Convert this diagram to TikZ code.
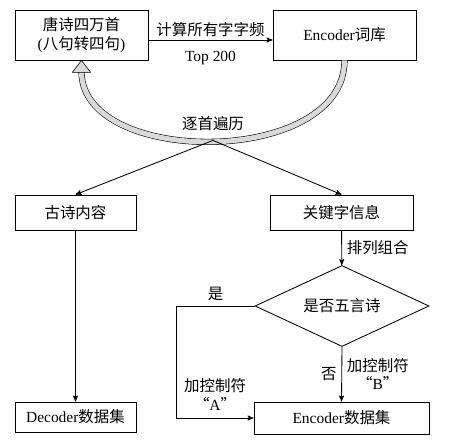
\documentclass[tikz,border=0pt]{standalone}
\usepackage{fontspec}
\setmainfont{Liberation Serif}
\newfontfamily\cjk{Noto Sans CJK SC}
\newcommand{\zh}[1]{{\cjk #1}}
\usepackage{tikz}
\usetikzlibrary{arrows,shapes.geometric,positioning}

\begin{document}
\begin{tikzpicture}[->,>=stealth',semithick,font=\fontsize{11}{13}\selectfont,
    box/.style={draw,rectangle,align=center,inner sep=2pt},
    decision/.style={draw,diamond,aspect=2,inner sep=1pt,minimum width=4.35cm,minimum height=2.025cm},
    loopback/.style={-,double=gray!30,double distance=3.6pt,thin,shorten >=8pt}]
            % \useasboundingbox keeps the margins of the page
            \useasboundingbox (0,0) rectangle (11.25,-11.125);

            \node[box,minimum width=3.325cm,minimum height=1.25cm] (poem) at (2.0375,-0.875) {\zh{唐诗四万首}\\(\zh{八句转四句})};
            \node[box,minimum width=3.575cm,minimum height=1.25cm] (vocab) at (8.6125,-0.875) {Encoder\zh{词库}};
            \node[box,minimum width=3.025cm,minimum height=0.875cm] (content) at (1.8875,-5.3125) {\zh{古诗内容}};
            \node[box,minimum width=3.575cm,minimum height=0.875cm] (keyword) at (8.5375,-5.3125) {\zh{关键字信息}};
            \node[decision] (check) at (8.55,-7.65) {\zh{是否五言诗}};
            \node[box,minimum width=3.025cm,minimum height=0.75cm] (decoder) at (1.8875,-10.425) {Decoder\zh{数据集}};
            \node[box,minimum width=4.375cm,minimum height=0.8cm] (encoder) at (8.5375,-10.45) {Encoder\zh{数据集}};

            \draw ([yshift=-0.125cm]poem.east) -- node[above=-1pt] {\zh{计算所有字字频}} node[below=4pt] {Top 200} ([yshift=-0.125cm]vocab.west);

            % hollow arrow back to the poems
            \draw[loopback] (vocab.south) to[out=-90,in=-90,looseness=1.04] coordinate[pos=0.5] (split) (poem.south);
            \filldraw[-,thin,fill=gray!30,line join=miter] (poem.south) -- ++(-6.5pt,-8.5pt) -- ++(13pt,0) -- cycle;
            \node[above=0.12cm of split] (traverse) {\zh{逐首遍历}};

            \draw (split) -- (content.north);
            \draw (split) -- (keyword.north);
            \draw (content) -- (decoder);
            \path (keyword) edge node[right] {\zh{排列组合}} (check);
            \draw (check.west) -- node[above] {\zh{是}} ++(-1.95,0) |- node[above=2pt,pos=0.75,align=center] {\zh{加控制符}\\\zh{“}A\zh{”}} (encoder.west);
            \draw (check.south) -- node[left] {\zh{否}} node[right,align=center] {\zh{加控制符}\\\zh{“}B\zh{”}} (encoder.north);
        \end{tikzpicture}
\end{document}
